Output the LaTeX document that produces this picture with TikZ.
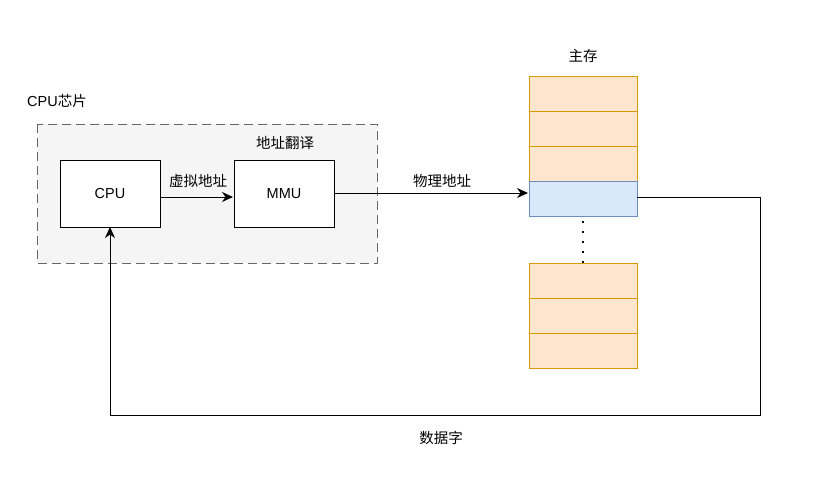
\documentclass[tikz,border=0pt]{standalone}
\usepackage{fontspec}
\setmainfont{Liberation Sans}
\newfontfamily\cjk{Noto Sans CJK SC}
\usetikzlibrary{arrows.meta}
\definecolor{chipfill}{HTML}{F5F5F5}
\definecolor{chipline}{HTML}{666666}
\definecolor{memfill}{HTML}{FFE6CC}
\definecolor{memline}{HTML}{D79B00}
\definecolor{selfill}{HTML}{DAE8FC}
\definecolor{selline}{HTML}{6C8EBF}
\tikzset{
  box/.style={draw=black, fill=white, line width=1pt},
  cell/.style={draw=memline, fill=memfill, line width=1pt},
  selcell/.style={draw=selline, fill=selfill, line width=1pt},
  lbl/.style={font=\fontsize{14.5}{17}\selectfont\cjk, inner sep=0pt},
  conn/.style={line width=1pt, -{Stealth[length=11pt,width=10pt,inset=3.5pt]}},
}
\begin{document}
\begin{tikzpicture}[x=1pt,y=-1pt]
\useasboundingbox (0,0) rectangle (821,485);
% chip
\draw[fill=chipfill, draw=chipline, line width=1pt, dash pattern=on 9pt off 5pt] (37,124) rectangle (377,263);
\node[lbl, anchor=west] (chiplbl) at (27,101) {{\fontspec{Liberation Sans}CPU}芯片};
% CPU and MMU
\draw[box] (60,160) rectangle (160,227);
\node[inner sep=0pt, minimum width=100pt, minimum height=67pt] (cpu) at (110,193.5) {};
\node[font=\fontsize{14.5}{17}\selectfont] (cputxt) at (110,193.5) {CPU};
\draw[box] (234,160) rectangle (334,227);
\node[inner sep=0pt, minimum width=100pt, minimum height=67pt] (mmu) at (284,193.5) {};
\node[font=\fontsize{14.5}{17}\selectfont] (mmutxt) at (284,193.5) {MMU};
\node[lbl] (trans) at (285,143) {地址翻译};
\node[lbl] (virt) at (198,181) {虚拟地址};
\draw[conn] (160,197) -- (233,197);
% memory
\node[lbl] (mainmem) at (583,56) {主存};
\draw[cell] (529,76) rectangle (637,111);
\draw[cell] (529,111) rectangle (637,146);
\draw[cell] (529,146) rectangle (637,181);
\draw[selcell] (529,181) rectangle (637,216);
\node[inner sep=0pt, minimum width=108pt, minimum height=35pt] (sel) at (583,198.5) {};
\draw[cell] (529,263) rectangle (637,298);
\draw[cell] (529,298) rectangle (637,333);
\draw[cell] (529,333) rectangle (637,368);
\draw[line width=2pt, dash pattern=on 2pt off 8pt, line cap=butt] (583,221) -- (583,263);
% MMU to memory
\node[lbl] (phys) at (442,181) {物理地址};
\draw[conn] (334,193) -- (528,193);
% data back
\coordinate (c1) at (760,197);
\coordinate (c2) at (760,415);
\coordinate (c3) at (110,415);
\draw[conn] (637,197) -- (c1) -- (c2) -- (c3) -- (110,227);
\node[lbl] (data) at (441,438) {数据字};
\end{tikzpicture}
\end{document}
